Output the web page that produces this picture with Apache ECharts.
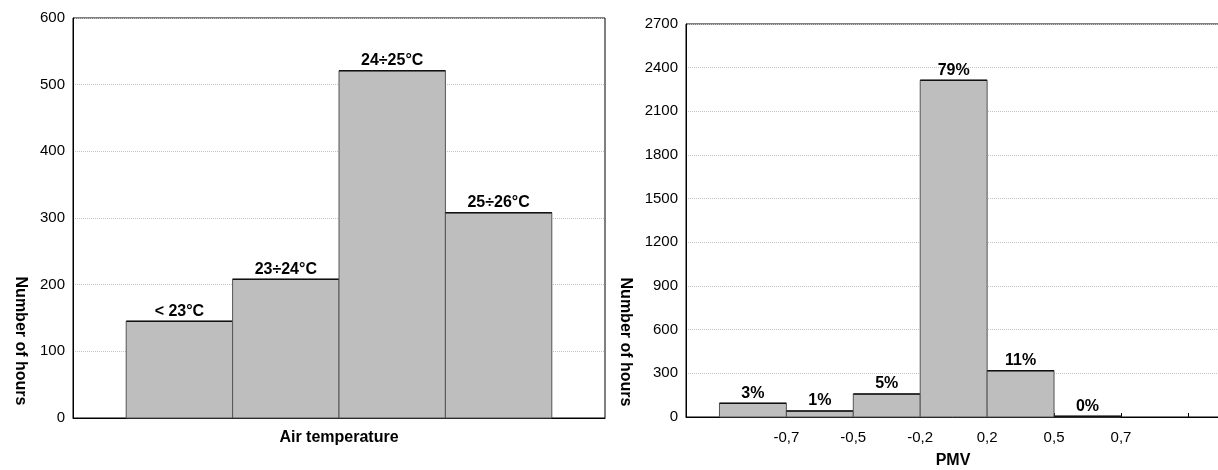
<!DOCTYPE html>
<html>
<head>
<meta charset="utf-8">
<script src="https://cdn.jsdelivr.net/npm/echarts@6/dist/echarts.min.js"></script>
<style>
  html, body { margin: 0; padding: 0; background: #fff; }
  #chart { width: 1218px; height: 470px; }
</style>
</head>
<body>
<div id="chart"></div>
<script>
// left panel: air temperature bins
const tempBins = ["< 23°C", "23÷24°C", "24÷25°C", "25÷26°C"];
const tempHours = [145, 208, 521, 308];
const tempTicks = [0, 100, 200, 300, 400, 500, 600];

// right panel: PMV bins
const pmvShares = ["3%", "1%", "5%", "79%", "11%", "0%"];
const pmvHours = [94, 41, 158, 2313, 318, 5];
const pmvTicks = ["", "-0,7", "-0,5", "-0,2", "0,2", "0,5", "0,7", ""];

const FONT = '"Liberation Sans", Arial, sans-serif';

const chart = echarts.init(document.getElementById("chart"), null, { renderer: "canvas" });

function binsRenderer(labels) {
  return function (params, api) {
    const p0 = api.coord([api.value(0), 0]);
    const p1 = api.coord([api.value(1), api.value(2)]);
    return {
      type: "group",
      children: [
        {
          type: "rect",
          shape: { x: p0[0], y: p1[1], width: p1[0] - p0[0], height: p0[1] - p1[1] },
          style: { fill: "#bebebe", stroke: "#555", lineWidth: 1 },
        },
        {
          type: "line",
          shape: { x1: p0[0], y1: p1[1], x2: p1[0], y2: p1[1] },
          style: { stroke: "#111", lineWidth: 1.5 },
        },
        {
          type: "text",
          x: (p0[0] + p1[0]) / 2,
          y: p1[1] - 2,
          style: {
            text: labels[params.dataIndex],
            align: "center",
            verticalAlign: "bottom",
            font: "bold 16px " + FONT,
            fill: "#000",
          },
        },
      ],
    };
  };
}

const splitStyle = { show: true, lineStyle: { color: "#c4c4c4", type: "dotted", width: 1 } };
const tickLabel = { color: "#000", fontSize: 15, fontFamily: FONT };
const titleStyle = { color: "#000", fontSize: 16, fontWeight: "bold", fontFamily: FONT };

chart.setOption({
  animation: false,
  grid: [
    { left: 73, top: 18, width: 532, bottom: 52, show: true, borderColor: "#000", borderWidth: 1, containLabel: false, outerBoundsMode: "none" },
    { left: 686, top: 24, right: -2, bottom: 53, show: true, borderColor: "#000", borderWidth: 1, containLabel: false, outerBoundsMode: "none" },
  ],
  xAxis: [
    {
      gridIndex: 0,
      type: "value",
      min: -0.5,
      max: 4.5,
      axisLine: { show: true, onZero: false, lineStyle: { color: "#000" } },
      axisTick: { show: false },
      axisLabel: { show: false },
      splitLine: { show: false },
      name: "Air temperature",
      nameLocation: "middle",
      nameGap: 12,
      nameTextStyle: titleStyle,
    },
    {
      gridIndex: 1,
      type: "value",
      min: -0.5,
      max: 7.48,
      axisLine: { show: true, onZero: false, lineStyle: { color: "#000" } },
      axisTick: { show: true, inside: true, length: 4, customValues: [0, 1, 2, 3, 4, 5, 6, 7], lineStyle: { color: "#000" } },
      axisLabel: Object.assign({ margin: 13, customValues: [1, 2, 3, 4, 5, 6], formatter: (v) => pmvTicks[v] }, tickLabel),
      splitLine: { show: false },
      name: "PMV",
      nameLocation: "middle",
      nameGap: 36,
      nameTextStyle: titleStyle,
    },
  ],
  yAxis: [
    {
      gridIndex: 0,
      type: "value",
      min: tempTicks[0],
      max: tempTicks[tempTicks.length - 1],
      interval: 100,
      axisLine: { show: true, onZero: false, lineStyle: { color: "#000" } },
      axisTick: { show: false },
      axisLabel: Object.assign({ margin: 8, formatter: (v) => String(v) }, tickLabel),
      splitLine: splitStyle,
    },
    {
      gridIndex: 1,
      type: "value",
      min: 0,
      max: 2700,
      interval: 300,
      axisLine: { show: true, onZero: false, lineStyle: { color: "#000" } },
      axisTick: { show: false },
      axisLabel: Object.assign({ margin: 8, formatter: (v) => String(v) }, tickLabel),
      splitLine: splitStyle,
    },
  ],
  graphic: [
    {
      type: "text",
      x: 20,
      y: 341,
      rotation: -Math.PI / 2,
      style: { text: "Number of hours", align: "center", verticalAlign: "middle", font: "bold 16px " + FONT, fill: "#000" },
    },
    {
      type: "text",
      x: 625,
      y: 342,
      rotation: -Math.PI / 2,
      style: { text: "Number of hours", align: "center", verticalAlign: "middle", font: "bold 16px " + FONT, fill: "#000" },
    },
  ],
  series: [
    {
      type: "custom",
      xAxisIndex: 0,
      yAxisIndex: 0,
      renderItem: binsRenderer(tempBins),
      data: tempHours.map((h, i) => [i, i + 1, h]),
    },
    {
      type: "custom",
      xAxisIndex: 1,
      yAxisIndex: 1,
      renderItem: binsRenderer(pmvShares),
      data: pmvHours.map((h, i) => [i, i + 1, h]),
    },
  ],
});
</script>
</body>
</html>
